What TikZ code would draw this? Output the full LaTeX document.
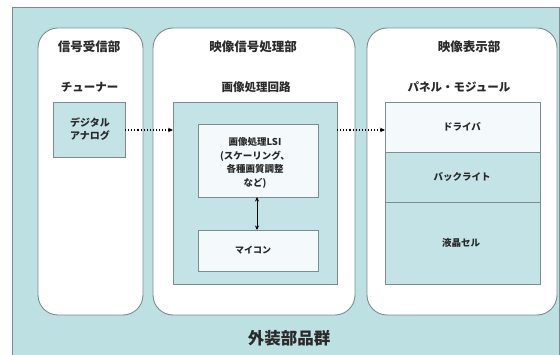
\documentclass[tikz,border=0pt]{standalone}
\usepackage{fontspec}
\setmainfont{Noto Sans CJK JP}
\usetikzlibrary{arrows.meta}
\definecolor{teal0}{HTML}{BDE0E2}
\definecolor{teal1}{HTML}{C3E3E6}
\definecolor{pale}{HTML}{F4FAFB}
\definecolor{edge}{HTML}{7D8C8E}
\definecolor{ink}{HTML}{2A2A2A}
\tikzset{
  panel/.style={draw=edge, line width=0.9pt, fill=white, rounded corners=20pt},
  tbox/.style={draw=edge, line width=0.9pt, fill=teal1},
  pbox/.style={draw=edge, line width=0.9pt, fill=pale},
  ttl/.style={font=\fontsize{12.5}{14}\selectfont\bfseries, text=ink},
  sub/.style={font=\fontsize{11.5}{13}\selectfont\bfseries, text=ink},
  small/.style={font=\fontsize{9.5}{13.5}\selectfont\bfseries, text=ink, align=center},
  dotarrow/.style={dotted, line width=1.1pt, -{Stealth[length=5pt,width=4.5pt]}},
}
\begin{document}
\begin{tikzpicture}[x=1pt,y=-1pt]
\useasboundingbox (0,0) rectangle (560,355);
\begin{scope}
\clip (0,0) rectangle (560,355);
\path[fill=white] (0,0) rectangle (560,355);
\draw[draw=edge, line width=0.9pt, fill=teal0] (12,7) rectangle (559,370);
\end{scope}
% panels
\draw[panel] (38,28) rectangle (143,315);
\draw[panel] (153,28) rectangle (355,315);
\draw[panel] (367,28) rectangle (557,315);
% titles
\node[ttl] (t1) at (89,47) {信号受信部};
\node[ttl] (t2) at (253,47) {映像信号処理部};
\node[ttl] (t3) at (469,47) {映像表示部};
\node[sub] (s1) at (89.5,87) {チューナー};
\node[sub] (s2) at (256,87) {画像処理回路};
\node[sub] (s3) at (459,87) {パネル・モジュール};
% tuner
\draw[tbox] (53,102) rectangle (125,157);
\node[small, font=\fontsize{10}{13}\selectfont\bfseries] (tuner) at (90,129.5) {デジタル\\アナログ};
\coordinate (tunerR) at (125,130);
% image processing circuit
\draw[tbox] (173,102) rectangle (337,284);
\coordinate (ipcL) at (173,130);
\coordinate (ipcR) at (337,130);
\draw[pbox] (198,124) rectangle (318,197);
\node[small] (lsi) at (255,163) {画像処理LSI\\(スケーリング、\\各種画質調整\\など)};
\draw[pbox] (198,230) rectangle (318,271);
\node[small, font=\fontsize{9}{11}\selectfont\bfseries] (mc) at (253,250.5) {マイコン};
\coordinate (lsiB) at (257,197);
\coordinate (mcT) at (257,230);
\draw[line width=0.8pt, {Stealth[length=4.5pt,width=4pt]}-{Stealth[length=4.5pt,width=4pt]}] (lsiB) -- (mcT);
% panel module
\draw[pbox] (385,102) rectangle (540,152);
\draw[tbox] (385,152) rectangle (540,202);
\draw[tbox] (385,202) rectangle (540,284);
\node[small] (drv) at (462,127) {ドライバ};
\node[small] (bl) at (462,177) {バックライト};
\node[small] (lc) at (461,243) {液晶セル};
\coordinate (pmL) at (385,130);
% arrows
\draw[dotarrow] (tunerR) -- (ipcL);
\draw[dotarrow] (ipcR) -- (pmL);
% bottom
\node[font=\fontsize{16.5}{18}\selectfont\bfseries, text=ink] (ext) at (289,338) {外装部品群};
\end{tikzpicture}
\end{document}
